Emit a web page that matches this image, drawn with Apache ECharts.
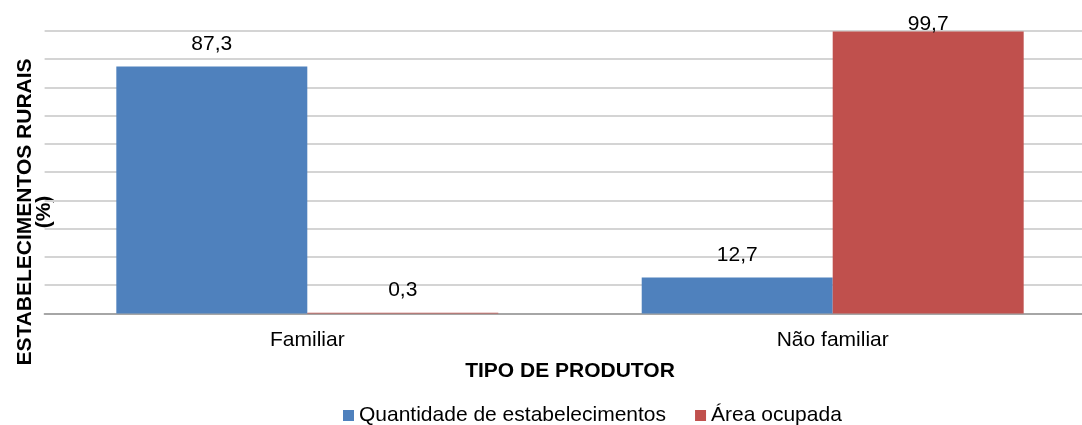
<!DOCTYPE html>
<html>
<head>
<meta charset="utf-8">
<style>
  html, body { margin: 0; padding: 0; background: #fff; }
  #chart { width: 1082px; height: 425px; }
</style>
<script src="https://cdn.jsdelivr.net/npm/echarts@6/dist/echarts.min.js"></script>
</head>
<body>
<div id="chart"></div>
<script>
// dados do gráfico
const categorias = ['Familiar', 'Não familiar']
const quantidade = [87.3, 12.7]
const area = [0.3, 99.7]
const nomesSeries = ['Quantidade de estabelecimentos', 'Área ocupada']

const fonte = '"Liberation Sans", Arial, sans-serif'

// rótulo no topo da barra; perto de 100 o Excel recorta dentro da área
const toData = arr => arr.map(v => ({
  value: v,
  label: { distance: v > 95 ? -3 : 12 }
}))

const fmt = p => p.value.toFixed(1).replace('.', ',')

const chart = echarts.init(document.getElementById('chart'))

chart.setOption({
  animation: false,
  // a área do gráfico original passa da borda direita da imagem
  grid: { left: 44.6, right: -13.4, top: 30.7, bottom: 111.5, outerBoundsMode: 'none' },
  legend: {
    left: 338,
    top: 400,
    itemWidth: 11,
    itemHeight: 11,
    itemGap: 29,
    icon: 'rect',
    textStyle: { fontFamily: fonte, fontSize: 21, color: '#000' },
    data: nomesSeries
  },
  xAxis: {
    type: 'category',
    data: categorias,
    name: 'TIPO DE PRODUTOR',
    nameLocation: 'middle',
    nameGap: 47,
    nameTextStyle: { fontFamily: fonte, fontSize: 21, fontWeight: 'bold', color: '#000' },
    axisLine: { lineStyle: { color: '#a6a6a6', width: 2 } },
    axisTick: { show: false },
    axisLabel: { fontFamily: fonte, fontSize: 21, color: '#000', margin: 16 }
  },
  yAxis: {
    type: 'value',
    min: 0,
    max: 100,
    interval: 10,
    axisLabel: { show: false },
    axisLine: { show: false },
    axisTick: { show: false },
    splitLine: { lineStyle: { color: '#d4d4d4', width: 2 } }
  },
  graphic: [{
    type: 'text',
    x: 34.5,
    y: 212,
    rotation: Math.PI / 2,
    style: {
      text: 'ESTABELECIMENTOS RURAIS\n(%)',
      fontFamily: fonte,
      fontSize: 21,
      fontWeight: 'bold',
      lineHeight: 19,
      fill: '#000',
      align: 'center',
      verticalAlign: 'middle'
    }
  }],
  series: [
    {
      name: nomesSeries[0],
      type: 'bar',
      data: toData(quantidade),
      barGap: '0%',
      barCategoryGap: '27.3%',
      itemStyle: { color: '#4F81BD' },
      label: { show: true, position: 'top', formatter: fmt, fontFamily: fonte, fontSize: 21, color: '#000' }
    },
    {
      name: nomesSeries[1],
      type: 'bar',
      data: toData(area),
      itemStyle: { color: '#C0504D' },
      label: { show: true, position: 'top', formatter: fmt, fontFamily: fonte, fontSize: 21, color: '#000' }
    }
  ]
})
</script>
</body>
</html>
